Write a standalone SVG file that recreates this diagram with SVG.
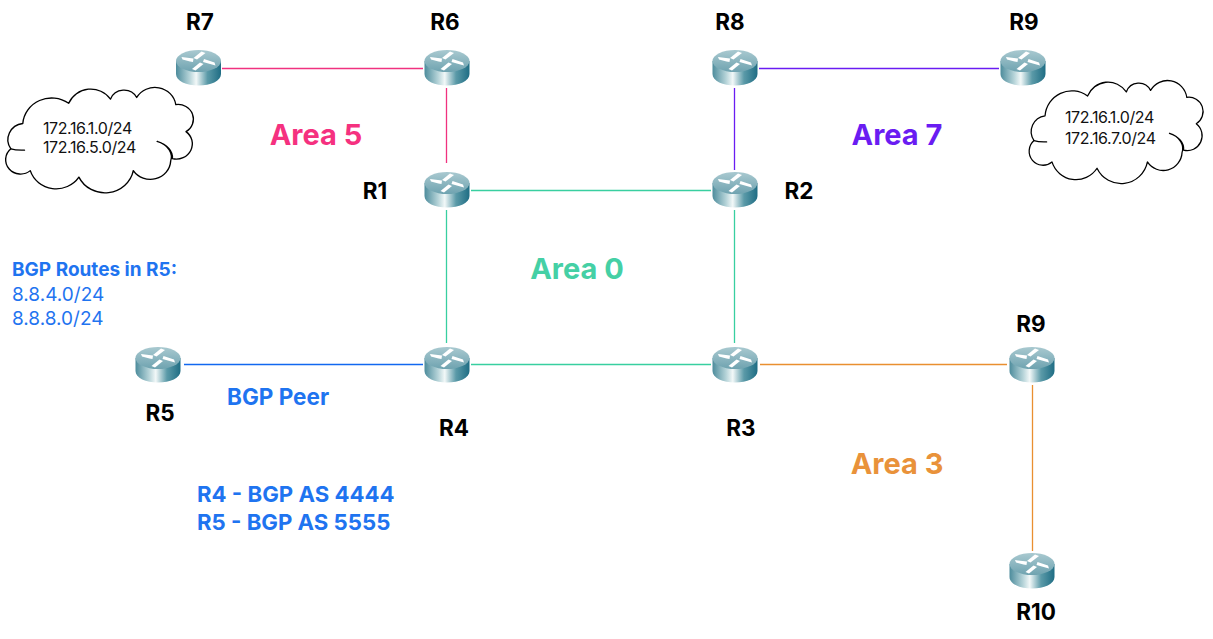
<svg xmlns="http://www.w3.org/2000/svg" xmlns:xlink="http://www.w3.org/1999/xlink" width="1213" height="639" viewBox="0 0 1213 639">
<style>
text{font-family:"Inter","Liberation Sans",sans-serif}
.n{font-size:22.500px;font-weight:700;fill:#000;text-anchor:middle}
.a{font-size:29px;font-weight:700;text-anchor:middle}
.b{fill:#1f74f0;font-weight:700}
.c{font-size:16px;fill:#111;letter-spacing:-.4px}
.l{fill:none;stroke-width:1.3}
.cl{fill:#fff;stroke:#000;stroke-width:4;stroke-linecap:round;stroke-linejoin:round}
</style>
<defs>
<linearGradient id="body" x1="0" x2="1" y1="0" y2="0">
<stop offset="0" stop-color="#4d8c9c"/><stop offset=".3" stop-color="#b5d3d8"/><stop offset=".45" stop-color="#f2f8f8"/><stop offset=".7" stop-color="#5b9aa8"/><stop offset="1" stop-color="#1f6d84"/>
</linearGradient>
<linearGradient id="top" x1="0" x2="0" y1="0" y2="1">
<stop offset="0" stop-color="#a9c9d0"/><stop offset="1" stop-color="#6fa3b0"/>
</linearGradient>
<symbol id="router" overflow="visible">
<path d="M-22.500 0V13C-22.500 20 -12 24.500 0 24.500S22.500 20 22.500 13V0Z" fill="url(#body)"/>
<ellipse rx="22.500" ry="11" fill="url(#top)"/>
<g fill="#fff">
<path d="M-17 -4L-5 -2.500L-5.500 1L-8.500 0.500L-16 -1.500Z"/>
<path d="M17 4.500L4.500 1L5.500 -2L8.500 -1L16 1.500Z"/>
<path d="M-5 -3L3 -9.500L7 -8L-1.500 -1.500Z"/>
<path d="M5 3L-3 9.500L-6.500 8L1.500 1.500Z"/>
</g>
</symbol>
<g id="cloud">
<path class="cl" d="M70 100A85 85 0 0 1 205 38A70 70 0 0 1 328 25A42 42 0 0 1 405 20A62 62 0 0 1 520 42A45 45 0 0 1 550 125A47 47 0 0 1 510 208C512 185 495 165 465 155C500 165 512 195 505 215A60 60 0 0 1 395 245A85 85 0 0 1 235 265A80 80 0 0 1 92 245A42 42 0 0 1 35 178A50 50 0 0 1 70 100Z"/>
<path class="cl" d="M35 178C50 183 60 182 75 182" fill="none"/>
</g>
</defs>
<g id="connectors">
<path class="l" stroke="#f0327f" d="M222 68.500H423M446.500 88V163"/>
<path class="l" stroke="#6a1cf2" d="M759 68.500H999M734.500 88V170"/>
<path class="l" stroke="#38cfa0" d="M471 190.500H711M446.500 210V343M734.500 210V343M471 364.500H711"/>
<path class="l" stroke="#1268f0" d="M184 364.500H423"/>
<path class="l" stroke="#e98f30" d="M760 364.500H1007M1032.500 385V551"/>
</g>
<g id="cloud-r5"><use xlink:href="#cloud" href="#cloud" transform="translate(-1 91) scale(.34 .325)"/>
<text class="c" x="43" y="133.500">172.16.1.0/24</text><text class="c" x="43" y="153">172.16.5.0/24</text></g>
<g id="cloud-r9"><use xlink:href="#cloud" href="#cloud" transform="translate(1023 84) scale(.315 .318)"/>
<text class="c" x="1065" y="123">172.16.1.0/24</text><text class="c" x="1065" y="143.500">172.16.7.0/24</text></g>
<g id="R7"><use href="#router" x="198.500" y="61"/><text class="n" x="200" y="30">R7</text></g>
<g id="R6"><use href="#router" x="447" y="61"/><text class="n" x="445" y="30">R6</text></g>
<g id="R8"><use href="#router" x="735" y="61"/><text class="n" x="730" y="30">R8</text></g>
<g id="R9a"><use href="#router" x="1023" y="61"/><text class="n" x="1024" y="30">R9</text></g>
<g id="R1"><use href="#router" x="447" y="183"/><text class="n" x="375" y="199">R1</text></g>
<g id="R2"><use href="#router" x="735" y="183"/><text class="n" x="799" y="199">R2</text></g>
<g id="R4"><use href="#router" x="447" y="358"/><text class="n" x="454" y="436">R4</text></g>
<g id="R3"><use href="#router" x="735" y="358"/><text class="n" x="741" y="436">R3</text></g>
<g id="R5"><use href="#router" x="158" y="358"/><text class="n" x="160" y="421">R5</text></g>
<g id="R9b"><use href="#router" x="1032" y="358"/><text class="n" x="1031" y="332">R9</text></g>
<g id="R10"><use href="#router" x="1032" y="564"/><text class="n" x="1036" y="620">R10</text></g>
<g id="labels">
<text class="a" x="316" y="145" fill="#f5317f">Area 5</text>
<text class="a" x="897" y="145" fill="#6a1cf2">Area 7</text>
<text class="a" x="577" y="279" fill="#45d0a5">Area 0</text>
<text class="a" x="897" y="474" fill="#e9923a">Area 3</text>
<text class="b" x="12" y="276" font-size="19">BGP Routes in R5:</text>
<text x="12" y="301" font-size="19" fill="#1f74f0">8.8.4.0/24</text>
<text x="12" y="325" font-size="19" fill="#1f74f0">8.8.8.0/24</text>
<text class="b" x="227" y="405" font-size="22.500">BGP Peer</text>
<text class="b" x="197" y="502" font-size="22.200">R4 - BGP AS 4444</text>
<text class="b" x="197" y="530" font-size="22.200">R5 - BGP AS 5555</text>
</g>
</svg>
